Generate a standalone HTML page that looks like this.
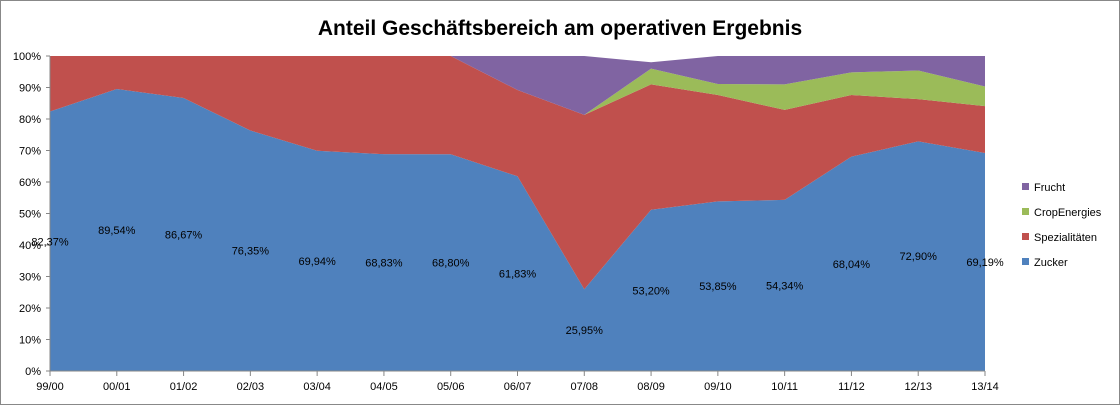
<!DOCTYPE html>
<html><head><meta charset="utf-8"><style>
body{margin:0;background:#fff}
svg{display:block;font-family:"Liberation Sans",sans-serif}
</style></head><body>
<svg id="c" width="1120" height="405">
<rect x="0.5" y="0.5" width="1119" height="404" fill="#fff" stroke="#888"/>
<text x="560" y="35" text-anchor="middle" font-size="21" font-weight="bold">Anteil Geschäftsbereich am operativen Ergebnis</text>
<g id="plot"></g>
</svg>
<script>
const categories=["99/00","00/01","01/02","02/03","03/04","04/05","05/06","06/07","07/08","08/09","09/10","10/11","11/12","12/13","13/14"];
const zucker=[82.37,89.54,86.67,76.35,69.94,68.83,68.80,61.83,25.95,51.2,53.85,54.34,68.04,72.90,69.19];
const zuckerLabels=["82,37%","89,54%","86,67%","76,35%","69,94%","68,83%","68,80%","61,83%","25,95%","53,20%","53,85%","54,34%","68,04%","72,90%","69,19%"];
const spezial=[17.63,10.46,13.33,23.65,30.06,31.17,31.2,27.37,55.35,39.8,33.75,28.56,19.56,13.4,14.91];
const crop=[0,0,0,0,0,0,0,0,0,5,3.5,8.1,7.2,9.1,6.2];
const frucht=[0,0,0,0,0,0,0,10.8,18.7,2,8.9,9,5.2,4.6,9.7];
const yTicks=[0,10,20,30,40,50,60,70,80,90,100];
const seriesNames=["Frucht","CropEnergies","Spezialitäten","Zucker"];

const NS="http://www.w3.org/2000/svg";
const X0=50,X1=985,Y0=371,Y1=56;
const xs=i=>X0+(X1-X0)*i/(categories.length-1);
const ys=v=>Y0-(Y0-Y1)*v/100;
const g=document.getElementById('plot');
function mk(t,a,p){const e=document.createElementNS(NS,t);for(const k in a)e.setAttribute(k,a[k]);(p||g).appendChild(e);return e;}

const layers=[[zucker,"#4f81bd","area-zucker"],[spezial,"#c0504d","area-spezialitaeten"],[crop,"#9bbb59","area-cropenergies"],[frucht,"#8064a2","area-frucht"]];
let base=categories.map(()=>0);
layers.forEach(([vals,col,name])=>{
  const top=base.map((b,i)=>b+vals[i]);
  let d=top.map((v,i)=>(i?'L':'M')+xs(i)+','+ys(v)).join(' ');
  for(let i=base.length-1;i>=0;i--)d+=' L'+xs(i)+','+ys(base[i]);
  const p=mk('path',{d:d+'Z',fill:col,stroke:'none'});
  
  
  base=top;
});
// axes
const ax=mk('line',{x1:X0,y1:Y1,x2:X0,y2:Y0,stroke:'#868686'});


const bx=mk('line',{x1:X0,y1:Y0,x2:X1,y2:Y0,stroke:'#868686'});


yTicks.forEach(v=>{
  const t=mk('text',{x:X0-9,y:ys(v)+4,'text-anchor':'end','font-size':11});
  t.textContent=v+'%';
  
  
  mk('line',{x1:X0-4,y1:ys(v),x2:X0,y2:ys(v),stroke:'#868686'});
});
categories.forEach((c,i)=>{
  mk('line',{x1:xs(i),y1:Y0,x2:xs(i),y2:Y0+5,stroke:'#868686'});
  const t=mk('text',{x:xs(i),y:Y0+19,'text-anchor':'middle','font-size':11});
  t.textContent=c;
  
  
  const l=mk('text',{x:xs(i),y:ys(zucker[i]/2)+4,'text-anchor':'middle','font-size':11});
  l.textContent=zuckerLabels[i];
  
  
});
const lcols=["#8064a2","#9bbb59","#c0504d","#4f81bd"];
seriesNames.forEach((n,i)=>{
  const y=187+i*25;
  const lg=mk('g',{});
  
  
  mk('rect',{x:1022,y:y-4,width:7,height:7,fill:lcols[i]},lg);
  const t=mk('text',{x:1034,y:y+4,'font-size':11},lg);
  t.textContent=n;
});
</script>
</body></html>
